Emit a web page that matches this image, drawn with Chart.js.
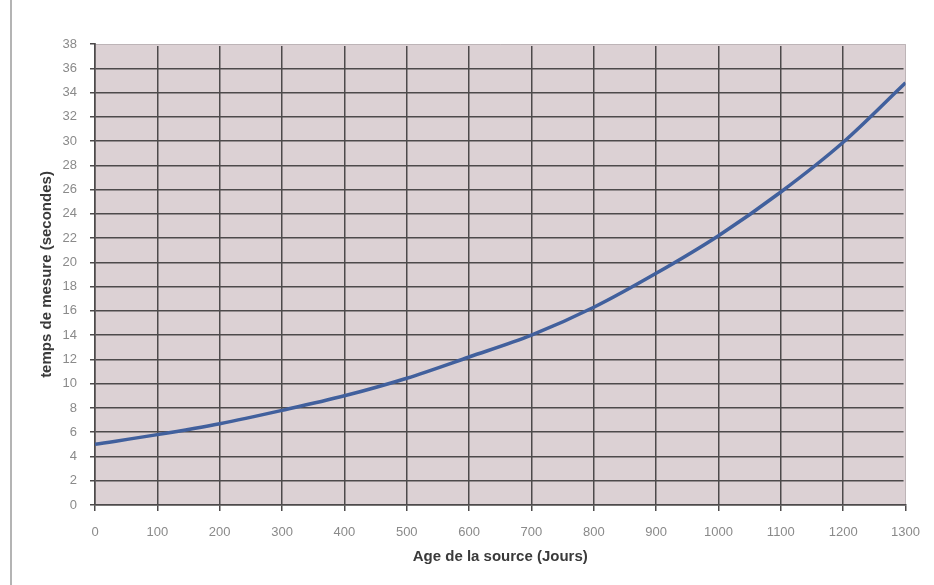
<!DOCTYPE html>
<html lang="fr">
<head>
    <meta charset="UTF-8">
    <title>Temps de mesure</title>
    <script src="https://cdn.jsdelivr.net/npm/chart.js"></script>
    <style>
        body {
            margin: 0;
            padding: 0;
            background-color: #ffffff;
        }

        .chart-container {
            position: relative;
            width: 934px;
            height: 585px;
        }

        .left-rule {
            position: absolute;
            left: 10px;
            top: 0;
            width: 2px;
            height: 585px;
            background-color: #b4b4b4;
        }
    </style>
</head>
<body>
    <div class="chart-container">
        <div class="left-rule"></div>
        <canvas id="chart" width="934" height="585"></canvas>
    </div>

    <script>
        // valeurs
        const ages = [0, 100, 200, 300, 400, 500, 600, 700, 800, 900, 1000, 1100, 1200, 1300];
        const temps = [5.0, 5.8, 6.7, 7.8, 9.0, 10.45, 12.2, 14.0, 16.3, 19.1, 22.2, 25.8, 29.9, 34.8];
        const xTitle = 'Age de la source (Jours)';
        const yTitle = 'temps de mesure (secondes)';

        const points = ages.map((a, i) => ({ x: a, y: temps[i] }));

        const plotColor = '#dcd1d4';
        const edgeColor = '#bdb4b7';

        // fond de la zone de tracé + bords haut/droite clairs
        const plotBackground = {
            id: 'plotBackground',
            beforeDraw(chart) {
                const { ctx, chartArea } = chart;
                ctx.save();
                ctx.fillStyle = plotColor;
                ctx.fillRect(chartArea.left, chartArea.top, chartArea.width, chartArea.height);
                ctx.restore();
            },
            beforeDatasetsDraw(chart) {
                const { ctx, chartArea: { left, top, right, bottom } } = chart;
                ctx.save();
                // effacer les traits sombres du bord
                ctx.fillStyle = '#ffffff';
                ctx.fillRect(right, top - 3, 4, bottom - top + 2);
                ctx.fillRect(left + 1, top - 3, right - left + 3, 3);
                ctx.fillStyle = plotColor;
                ctx.fillRect(right - 2, top, 2, bottom - top - 1);
                ctx.fillRect(left + 1, top, right - left - 1, 2);
                // trait fin clair
                ctx.strokeStyle = edgeColor;
                ctx.lineWidth = 1;
                ctx.beginPath();
                ctx.moveTo(left + 1, Math.round(top) + 0.5);
                ctx.lineTo(Math.round(right) - 0.5, Math.round(top) + 0.5);
                ctx.lineTo(Math.round(right) - 0.5, bottom - 1);
                ctx.stroke();
                ctx.restore();
            }
        };

        const tickFont = { family: "'Liberation Sans', Arial, sans-serif", size: 13 };
        const titleFont = { family: "'Liberation Sans', Arial, sans-serif", size: 15, weight: 'bold' };

        new Chart(document.getElementById('chart'), {
            type: 'line',
            data: {
                datasets: [{
                    data: points,
                    borderColor: '#41609d',
                    borderWidth: 3.5,
                    pointRadius: 0,
                    cubicInterpolationMode: 'monotone',
                    fill: false
                }]
            },
            options: {
                responsive: false,
                animation: false,
                layout: { padding: { left: 20, top: 44, right: 27, bottom: 0 } },
                plugins: {
                    legend: { display: false },
                    tooltip: { enabled: false }
                },
                scales: {
                    x: {
                        type: 'linear',
                        min: 0,
                        max: 1300,
                        afterFit(scale) { scale.height = 80; },
                        ticks: {
                            stepSize: 100,
                            color: '#8a8a8a',
                            font: tickFont,
                            padding: 14,
                            maxRotation: 0,
                            callback: v => String(v)
                        },
                        grid: {
                            color: '#4d4a4b',
                            lineWidth: 1.5,
                            tickLength: 6
                        },
                        border: { color: '#4d4a4b', width: 1.5 },
                        title: {
                            display: true,
                            text: xTitle,
                            color: '#3a3a3a',
                            font: titleFont,
                            padding: { top: 0, bottom: 19 }
                        }
                    },
                    y: {
                        min: 0,
                        max: 38,
                        afterFit(scale) { scale.width = 75; },
                        ticks: {
                            stepSize: 2,
                            color: '#8a8a8a',
                            font: tickFont,
                            padding: 13,
                            callback: v => String(v)
                        },
                        grid: {
                            color: '#4d4a4b',
                            lineWidth: 1.5,
                            tickLength: 5
                        },
                        border: { color: '#4d4a4b', width: 1.5 },
                        title: {
                            display: true,
                            text: yTitle,
                            color: '#3a3a3a',
                            font: titleFont,
                            padding: { top: 18, bottom: 0 }
                        }
                    }
                }
            },
            plugins: [plotBackground]
        });
    </script>
</body>
</html>
